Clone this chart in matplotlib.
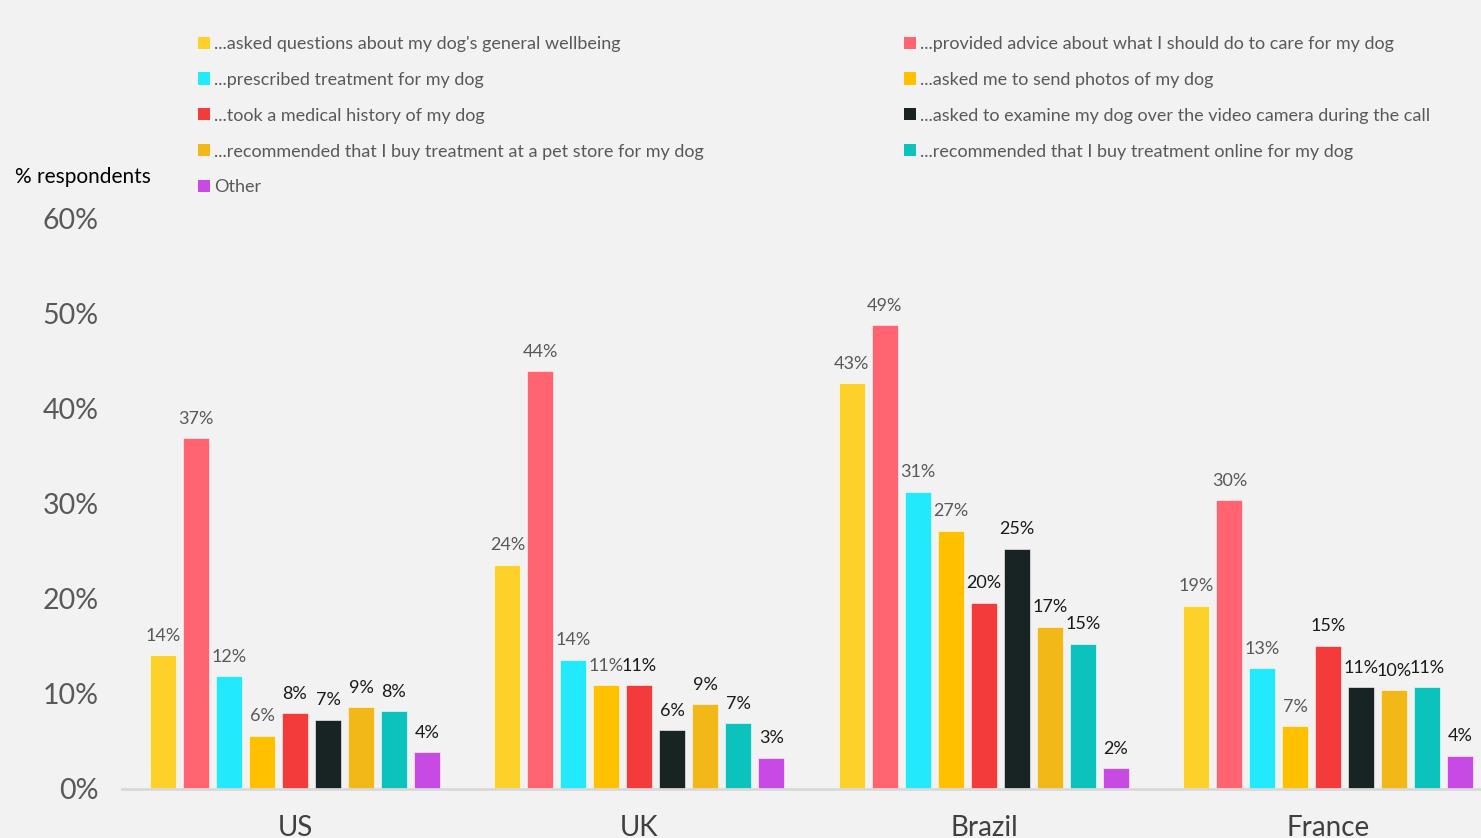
import numpy as np
import matplotlib.pyplot as plt
from matplotlib.patches import Patch

plt.rcParams['font.family'] = ['Lato', 'DejaVu Sans']

countries = ['US', 'UK', 'Brazil', 'France']
series = [
    "...asked questions about my dog's general wellbeing",
    "...provided advice about what I should do to care for my dog",
    "...prescribed treatment for my dog",
    "...asked me to send photos of my dog",
    "...took a medical history of my dog",
    "...asked to examine my dog over the video camera during the call",
    "...recommended that I buy treatment at a pet store for my dog",
    "...recommended that I buy treatment online for my dog",
    "Other",
]
colors = ['#fdd02a', '#ff6470', '#22e9fb', '#ffc000', '#f33b3b',
          '#182323', '#f2b817', '#0cc2bd', '#c84ae4']

# values per series, order: US, UK, Brazil, France
values = [
    [14.1, 23.6, 42.7, 19.3],
    [36.9, 44.0, 48.8, 30.4],
    [11.9, 13.6, 31.3, 12.7],
    [5.6, 10.9, 27.2, 6.6],
    [8.0, 10.9, 19.6, 15.1],
    [7.3, 6.2, 25.3, 10.7],
    [8.6, 8.9, 17.1, 10.4],
    [8.2, 6.9, 15.3, 10.7],
    [3.9, 3.3, 2.2, 3.5],
]
label_colors = ['#595959'] * 4 + ['#1a1a1a'] * 5

bg = '#f2f2f2'
fig = plt.figure(figsize=(14.81, 8.38), dpi=100, facecolor=bg)
ax = fig.add_axes([0.0824, 0.0585, 0.9176, 0.6802], facecolor=bg)

x = np.arange(len(countries))
step = 0.0958
width = 0.0755
handles = []
for i, (name, vals) in enumerate(zip(series, values)):
    pos = x + (i - 4) * step
    bars = ax.bar(pos, vals, width, color=colors[i], edgecolor='#ffffff',
                  linewidth=0.4, zorder=2)
    for b, v in zip(bars, vals):
        ax.text(b.get_x() + b.get_width() / 2, v + 1.2, f'{round(v):.0f}%',
                ha='center', va='bottom', fontsize=13,
                color=label_colors[i])
    handles.append(Patch(facecolor=colors[i], label=name))

ax.set_xlim(-0.502, 3.443)
ax.set_ylim(0, 60)
ax.set_yticks(np.arange(0, 61, 10))
ax.set_yticklabels([f'{t}%' for t in range(0, 61, 10)], fontsize=20.5, color='#595959')
ax.set_xticks(x)
ax.set_xticklabels(countries, fontsize=20, color='#404040')
ax.tick_params(axis='both', length=0)
ax.tick_params(axis='x', pad=19)
ax.tick_params(axis='y', pad=17)
for s in ['top', 'right', 'left']:
    ax.spines[s].set_visible(False)
ax.spines['bottom'].set_color('#d9d9d9')
ax.spines['bottom'].set_linewidth(2)

fig.text(15 / 1481, 1 - 177 / 838, '% respondents', fontsize=15, color='#000000',
         va='center', ha='left')

# legend in two columns, row-major order like the original
col1 = [handles[i] for i in (0, 2, 4, 6, 8)]
col2 = [handles[i] for i in (1, 3, 5, 7)]
kw = dict(frameon=False, fontsize=13, handlelength=0.65, handleheight=0.65,
          handletextpad=0.25, labelspacing=1.1, labelcolor='#595959',
          loc='upper left', borderaxespad=0, borderpad=0)
fig.legend(handles=col1, bbox_to_anchor=(198 / 1481, 1 - 36 / 838), **kw)
fig.legend(handles=col2, bbox_to_anchor=(904 / 1481, 1 - 36 / 838), **kw)

fig.savefig('out.png', dpi=100, facecolor=bg)
